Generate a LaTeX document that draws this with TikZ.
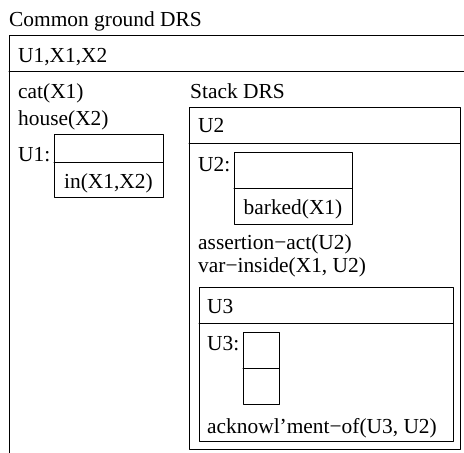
\documentclass[tikz,border=0pt]{standalone}
\usepackage{fontspec}
\setmainfont{Liberation Serif}
\begin{document}
\begin{tikzpicture}[line cap=round,line join=round,x=1pt,y=-1pt,
  txt/.style={anchor=base west,inner sep=0pt,font=\fontsize{21.4}{25}\selectfont},
  mid/.style={anchor=base,inner sep=0pt,font=\fontsize{21.4}{25}\selectfont},
  box/.style={line width=1pt}]
\useasboundingbox (0,0) rectangle (464,453);
\clip (0,0) rectangle (464,453);
% common ground DRS
\node [txt] (cgtitle) at (9,26) {Common ground DRS};
\draw [box] (9,35) rectangle (480,480);
\draw [box] (9,71)-- (480,71);
\node [txt] (cgrefs) at (18,62) {U1,X1,X2};
\node [txt] (cat) at (18,98) {cat(X1)};
\node [txt] (house) at (18,125) {house(X2)};
\node [txt] (uone) at (18,161) {U1:};
\draw [box] (54,134) rectangle (163,197);
\draw [box] (54,162)-- (163,162);
\node [mid] (inrel) at (108.5,188) {in(X1,X2)};
% stack DRS
\node [txt] (sttitle) at (190,98) {Stack DRS};
\draw [box] (189,107) rectangle (460,449);
\draw [box] (189,143)-- (460,143);
\node [txt] (strefs) at (198,132) {U2};
\node [txt] (utwo) at (198,171) {U2:};
\draw [box] (234,152) rectangle (352,224);
\draw [box] (234,188)-- (352,188);
\node [mid] (barked) at (293,214) {barked(X1)};
\node [txt] (assert) at (198,249) {assertion−act(U2)};
\node [txt] (varin) at (198,272) {var−inside(X1, U2)};
% U3 box
\draw [box] (199,287) rectangle (453,441);
\draw [box] (199,323)-- (453,323);
\node [txt] (u3refs) at (207,313) {U3};
\node [txt] (uthree) at (207,350) {U3:};
\draw [box] (243,332) rectangle (279,404);
\draw [box] (243,368)-- (279,368);
\node [txt] (ackn) at (207,433) {acknowl’ment−of(U3, U2)};
\end{tikzpicture}
\end{document}
